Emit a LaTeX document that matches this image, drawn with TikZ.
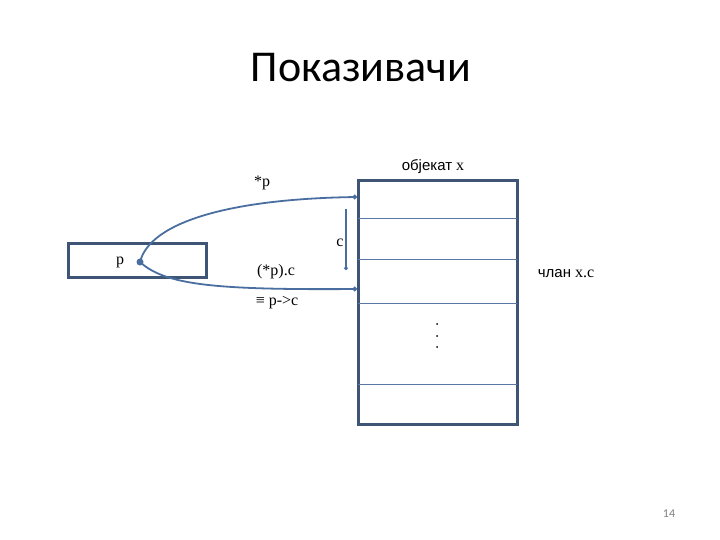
\documentclass[tikz,border=0pt]{standalone}
\usepackage{fontspec}
\setmainfont{Liberation Serif}
\newfontfamily\titlefont{Carlito}
\newfontfamily\cyrsans{Liberation Sans}
\usetikzlibrary{arrows.meta}
\definecolor{frame}{RGB}{62,85,118}
\definecolor{curve}{RGB}{74,110,160}
\definecolor{inner}{RGB}{90,120,165}
\tikzset{
  lbl/.style={inner sep=0pt, font=\fontsize{16}{19}\selectfont},
  ptr/.style={draw=curve, line width=1.8pt, -{Circle[length=4.5pt]}},
}
\begin{document}
\begin{tikzpicture}[x=1pt,y=-1pt]
\useasboundingbox (0,0) rectangle (720,540);
% title
\node[inner sep=0pt, font=\titlefont\fontsize{44}{48}\selectfont] (title) at (361,68) {Показивачи};
% object box
\draw[frame, line width=3pt] (358,181) rectangle (517,424);
\foreach \yy in {219,259,303,384} \draw[inner, line width=1pt] (358,\yy) -- (517,\yy);
\coordinate (top) at (357,197);
\coordinate (mem) at (357,289);
% p box
\draw[frame, line width=3pt] (68,243) rectangle (206,277);
\node[lbl] (p) at (120,262) {p};
\node[circle, fill=curve, inner sep=0pt, minimum size=7pt] (dot) at (140,262) {};
% curves
\draw[ptr] (dot.center) .. controls (150,222) and (230,199) .. (top);
\draw[ptr] (dot.center) .. controls (165,285) and (215,290) .. (mem);
% c arrow
\coordinate (c1) at (346,209);
\coordinate (c2) at (346,270);
\draw[curve, line width=1.6pt, -{Circle[length=3.5pt]}] (c1) -- (c2);
\node[lbl] (c) at (340,243) {c};
% labels
\node[lbl] (sp) at (262,183) {*p};
\node[lbl] (pc) at (276,272) {(*p).c};
\node[lbl] (eq) at (277,303) {≡ p->c};
\node[lbl] (obj) at (433,167) {{\cyrsans\fontsize{15}{18}\selectfont објекат} x};
\node[lbl] (mem) at (566,274) {{\cyrsans\fontsize{15}{18}\selectfont члан} x.c};
% dots
\foreach \yy in {324,336,347} \fill (437,\yy) circle (1pt);
% page number
\node[inner sep=0pt, text=gray, font=\titlefont\fontsize{12}{14}\selectfont] (pg) at (669,514) {14};
\end{tikzpicture}
\end{document}
